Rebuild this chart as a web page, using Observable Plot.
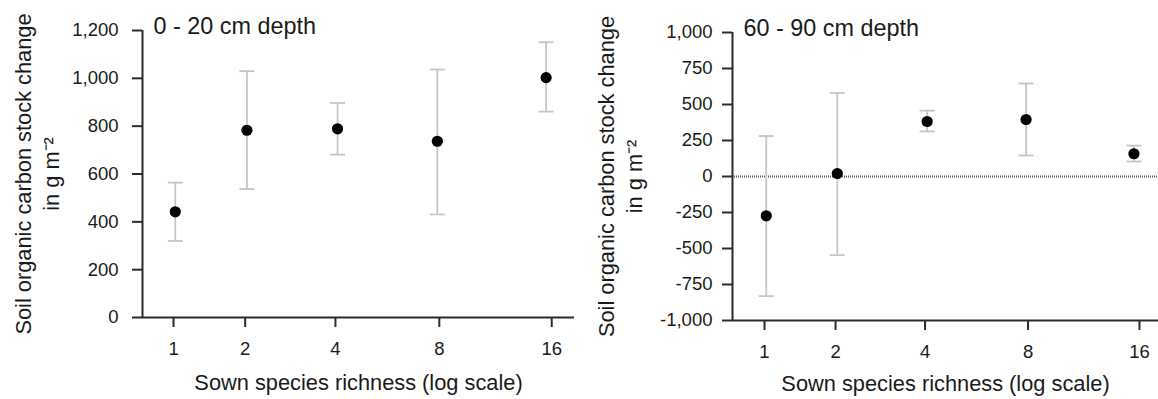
<!DOCTYPE html>
<html><head><meta charset="utf-8">
<script src="https://cdn.jsdelivr.net/npm/d3@7"></script>
<script src="https://cdn.jsdelivr.net/npm/@observablehq/plot@0.6"></script>
<style>
body{margin:0;background:#fff;}
#wrap{display:flex;width:1158px;height:399px;overflow:hidden;background:#fff;}
#wrap svg{display:block;flex:none;}
#wrap svg g[aria-label$="tick label"]{font-size:18.5px !important;}
</style></head><body><div id="wrap"></div>
<script>
// Data
const richnessTicks = [1, 2, 4, 8, 16];
const richnessPos = [1.02, 2.03, 4.06, 7.9, 15.47];

const shallowMean = [442, 783, 789, 737, 1003];
const shallowLo   = [320, 537, 681, 431, 861];
const shallowHi   = [564, 1030, 897, 1037, 1151];

const deepMean = [-273, 21, 382, 396, 158];
const deepLo   = [-831, -546, 313, 146, 104];
const deepHi   = [281, 580, 457, 646, 215];

const shallowTicks = [0, 200, 400, 600, 800, 1000, 1200];
const deepTicks = [-1000, -750, -500, -250, 0, 250, 500, 750, 1000];

const xLabel = "Sown species richness (log scale)";
const yLabel = "Soil organic carbon stock change\nin g m\u207B\u00B2";

const cap = {draw(context, size) { const w = Math.sqrt(size / Math.PI); context.moveTo(-w, 0); context.lineTo(w, 0); }};
const fmt = d => d.toLocaleString("en-US");
const axisColor = "#2b2b2b";
const barColor = "#c6c6c6";
const textColor = "#1a1a1a";

function panel(o) {
  const rows = richnessPos.map((x, i) => ({x, mean: o.mean[i], lo: o.lo[i], hi: o.hi[i]}));
  return Plot.plot({
    width: o.width, height: 399,
    marginLeft: o.marginLeft, marginRight: o.marginRight, marginTop: o.marginTop, marginBottom: o.marginBottom,
    style: {fontFamily: "Liberation Sans, Arial, sans-serif", fontSize: "18.5px", color: textColor, background: "#fff", overflow: "visible"},
    x: {type: "symlog", domain: o.xDomain},
    y: {domain: o.yDomain},
    marks: [
      o.zeroLine ? Plot.ruleY([0], {stroke: "#555", strokeWidth: 1.8, strokeDasharray: "1,1"}) : null,
      Plot.ruleX(rows, {x: "x", y1: "lo", y2: "hi", stroke: barColor, strokeWidth: 1.8}),
      Plot.dot(rows, {x: "x", y: "lo", symbol: cap, r: 7.5, fill: "none", stroke: barColor, strokeWidth: 1.8}),
      Plot.dot(rows, {x: "x", y: "hi", symbol: cap, r: 7.5, fill: "none", stroke: barColor, strokeWidth: 1.8}),
      Plot.dot(rows, {x: "x", y: "mean", r: 5.6, fill: "#000", stroke: "none"}),
      Plot.ruleX([o.xDomain[0]], {stroke: axisColor, strokeWidth: 2}),
      Plot.ruleY([o.yDomain[0]], {stroke: axisColor, strokeWidth: 2}),
      Plot.axisY({ticks: o.yTicks, tickSize: 10, tickPadding: o.yPad, tickFormat: fmt, label: null, stroke: axisColor, strokeWidth: 2, fontSize: 18.5, fill: textColor}),
      Plot.axisX({ticks: richnessTicks, tickSize: 10, tickPadding: 14, tickFormat: d => String(d), label: null, stroke: axisColor, strokeWidth: 2, fontSize: 18.5, fill: textColor}),
      Plot.text([o.title], {frameAnchor: "top-left", dx: 11, dy: -13, lineAnchor: "top", textAnchor: "start", fontSize: 23.4, fill: textColor}),
      Plot.text([xLabel], {frameAnchor: "bottom", dy: o.xLabelDy, lineAnchor: "top", fontSize: 21.8, fill: textColor}),
      Plot.text([yLabel], {frameAnchor: "left", dx: o.yLabelDx, rotate: -90, lineAnchor: "middle", textAnchor: "middle", fontSize: 21.8, lineHeight: 1.28, fill: textColor})
    ]
  });
}

const wrap = document.getElementById("wrap");
wrap.append(panel({
  mean: shallowMean, lo: shallowLo, hi: shallowHi,
  yDomain: [0, 1200], yTicks: shallowTicks, xDomain: [0.678, 18.34],
  width: 580, marginLeft: 142, marginRight: 6, marginTop: 30, marginBottom: 82,
  title: "0 - 20 cm depth", zeroLine: false, xLabelDy: 57, yLabelDx: -106, yPad: 14
}));
wrap.append(panel({
  mean: deepMean, lo: deepLo, hi: deepHi,
  yDomain: [-1000, 1000], yTicks: deepTicks, xDomain: [0.666, 17.95],
  width: 578, marginLeft: 152, marginRight: 0, marginTop: 32, marginBottom: 79,
  title: "60 - 90 cm depth", zeroLine: true, xLabelDy: 55, yLabelDx: -113, yPad: 10
}));
</script></body></html>
